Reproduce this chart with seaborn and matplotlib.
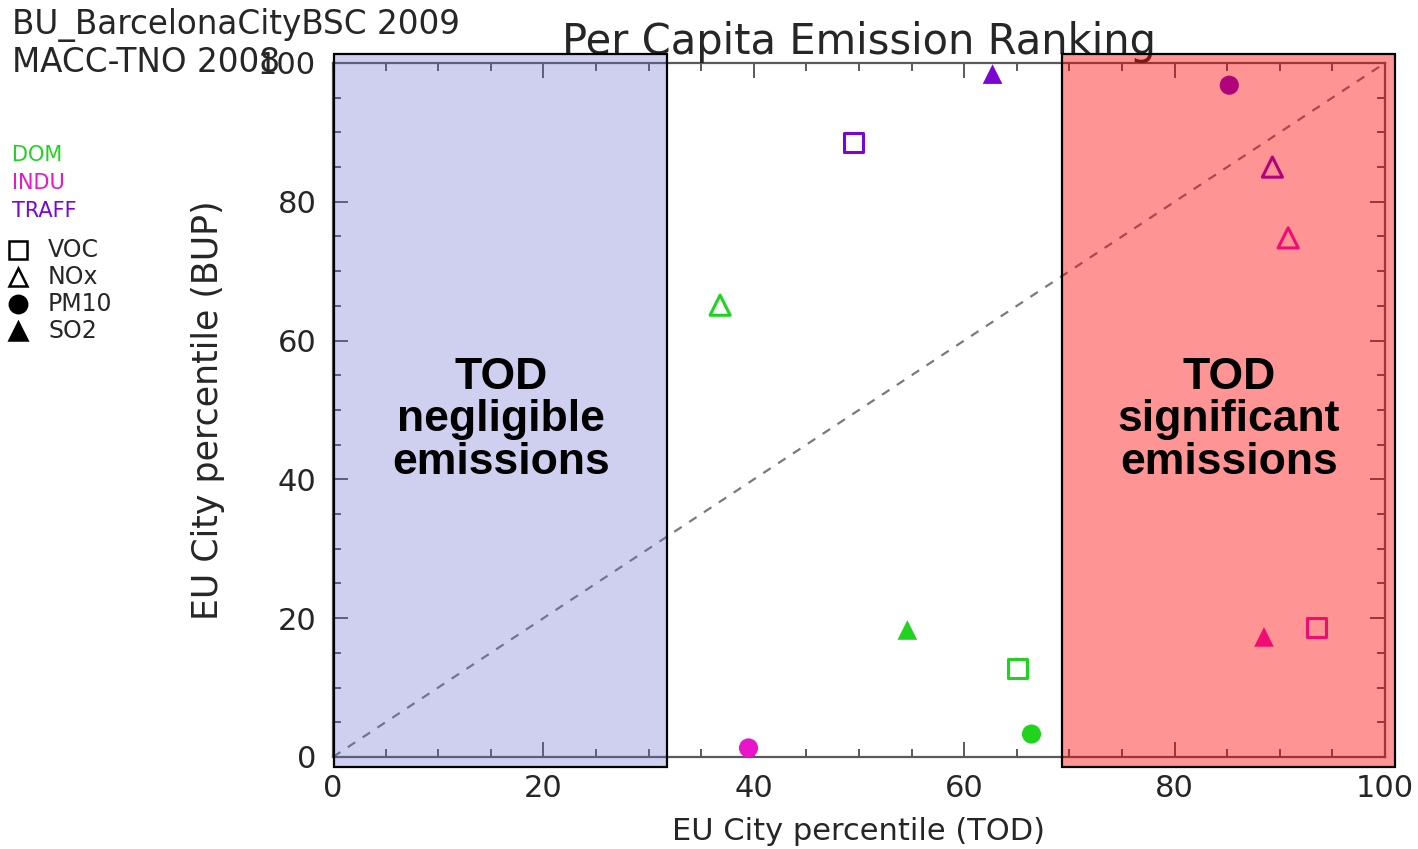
import matplotlib
matplotlib.use("Agg")
import matplotlib.pyplot as plt
from matplotlib.lines import Line2D
from matplotlib.patches import Rectangle
from matplotlib.ticker import MultipleLocator
import seaborn as sns
import pandas as pd

# ---- data -------------------------------------------------------------
sectors = ["DOM", "INDU", "TRAFF"]
pollutants = ["VOC", "NOx", "PM10", "SO2"]

# percentile in the top-down inventory (TOD), per sector, ordered as pollutants
tod_dom = [65.1, 36.8, 66.4, 54.6]
tod_indu = [93.5, 90.8, 39.5, 88.5]
tod_traff = [49.5, 89.3, 85.2, 62.7]

# percentile in the bottom-up inventory (BUP)
bup_dom = [12.7, 65.1, 3.3, 18.3]
bup_indu = [18.7, 74.8, 1.3, 17.3]
bup_traff = [88.6, 85.0, 96.8, 98.4]

x_ticks = [0, 20, 40, 60, 80, 100]
y_ticks = [0, 20, 40, 60, 80, 100]

# shaded percentile bands on the TOD axis
band_low = (0.1, 31.8)
band_high = (69.3, 101.0)

# ---- styling ----------------------------------------------------------
sector_colors = {"DOM": "#1fd41f", "INDU": "#e816c8", "TRAFF": "#7a06d2"}
poll_marker = {"VOC": "s", "NOx": "^", "PM10": "o", "SO2": "^"}
poll_filled = {"VOC": False, "NOx": False, "PM10": True, "SO2": True}
poll_size = {"VOC": 190, "NOx": 210, "PM10": 190, "SO2": 200}

df = pd.DataFrame({
    "sector": [s for s in sectors for _ in pollutants],
    "pollutant": pollutants * len(sectors),
    "tod": tod_dom + tod_indu + tod_traff,
    "bup": bup_dom + bup_indu + bup_traff,
})

sns.set_theme(style="white")
plt.rcParams["font.family"] = ["DejaVu Sans"]

fig = plt.figure(figsize=(14.18, 8.49), dpi=100)
ax = fig.add_axes([0.2348, 0.1084, 0.7419, 0.8174])

axis_gray = "#5a5a5a"
txt_gray = "#262626"

# 1:1 reference line
ax.plot([0, 100], [0, 100], ls=(0, (4, 4)), color="#7a7a7a", lw=1.6, zorder=1)

for p in pollutants:
    sub = df[df["pollutant"] == p]
    sns.scatterplot(data=sub, x="tod", y="bup", hue="sector",
                    palette=sector_colors, marker=poll_marker[p],
                    s=poll_size[p], legend=False, ax=ax, zorder=3,
                    clip_on=False)
    coll = ax.collections[-1]
    if poll_filled[p]:
        coll.set_edgecolors("none")
    else:
        fc = coll.get_facecolors()
        coll.set_edgecolors(fc)
        coll.set_facecolors("none")
        coll.set_linewidths(2.2)

ax.set_xlim(0, 100)
ax.set_ylim(0, 100)
ax.set_xticks(x_ticks)
ax.set_yticks(y_ticks)
ax.set_xticklabels([str(v) for v in x_ticks])
ax.set_yticklabels([str(v) for v in y_ticks])
ax.xaxis.set_minor_locator(MultipleLocator(5))
ax.yaxis.set_minor_locator(MultipleLocator(5))
ax.tick_params(which="both", direction="in", top=True, right=True,
               bottom=True, left=True, color=axis_gray, width=1.4)
ax.tick_params(which="major", length=11, labelsize=22, pad=12,
               labelcolor=txt_gray)
ax.tick_params(which="minor", length=5.5)
for sp in ax.spines.values():
    sp.set_color(axis_gray)
    sp.set_linewidth(1.6)
ax.grid(False)

ax.set_xlabel("EU City percentile (TOD)", fontsize=22, color=txt_gray,
              labelpad=10)
ax.set_ylabel("EU City percentile (BUP)", fontsize=25, color=txt_gray,
              labelpad=24)
ax.set_title("Per Capita Emission Ranking", fontsize=30, color=txt_gray,
             pad=5, loc="center", x=0.5)

# shaded bands drawn over the axes
for (x0, x1), face, alpha in [(band_low, "#6666cc", 0.31),
                              (band_high, "#ff0000", 0.42)]:
    ax.add_patch(Rectangle((x0, -1.5), x1 - x0, 102.8, facecolor=face,
                           alpha=alpha, edgecolor="none", zorder=5,
                           clip_on=False))
    ax.add_patch(Rectangle((x0, -1.5), x1 - x0, 102.8, facecolor="none",
                           edgecolor="black", lw=1.6, zorder=6,
                           clip_on=False))

ax.text(sum(band_low) / 2, 48.6, "TOD\nnegligible\nemissions",
        ha="center", va="center", fontsize=32, fontweight="bold",
        family="Liberation Sans", linespacing=1.05, color="black", zorder=7)
ax.text(sum(band_high) / 2, 48.6, "TOD\nsignificant\nemissions",
        ha="center", va="center", fontsize=32, fontweight="bold",
        family="Liberation Sans", linespacing=1.05, color="black", zorder=7)

# dataset captions, top left
W, H = 1418.0, 849.0
fig.text(12 / W, 1 - 25 / H, "BU_BarcelonaCityBSC 2009", fontsize=23.5,
         color=txt_gray, va="center", ha="left")
fig.text(12 / W, 1 - 62 / H, "MACC-TNO 2008", fontsize=23.5,
         color=txt_gray, va="center", ha="left")

# hand-made key: sector colours, then pollutant symbols
for i, s in enumerate(sectors):
    fig.text(12 / W, 1 - (155 + 28 * i) / H, s, fontsize=15,
             color=sector_colors[s], va="center", ha="left")
for i, p in enumerate(pollutants):
    yy = 1 - (250 + 27 * i) / H
    fig.add_artist(Line2D([18 / W], [yy], transform=fig.transFigure,
                          marker=poll_marker[p], markersize=12.5,
                          markerfacecolor="black" if poll_filled[p] else "none",
                          markeredgecolor="black", markeredgewidth=1.8,
                          linestyle="none"))
    fig.text(48 / W, yy, p, fontsize=17, color=txt_gray, va="center",
             ha="left")

fig.savefig("out.png", dpi=100, facecolor="white")
